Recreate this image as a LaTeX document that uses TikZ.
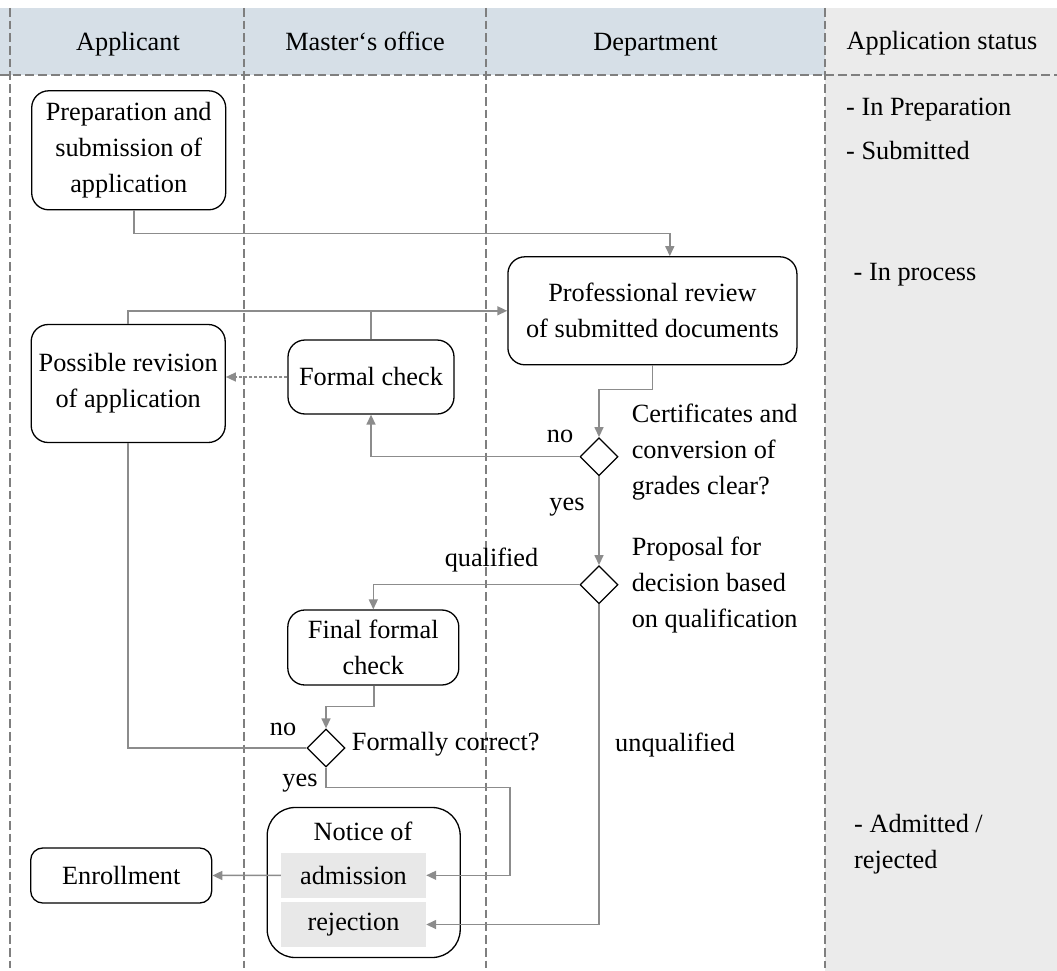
\documentclass[tikz,border=0pt]{standalone}
\usepackage{fontspec}
\setmainfont{Liberation Serif}
\usetikzlibrary{shapes.geometric,arrows.meta}
\definecolor{hdr}{HTML}{D6DFE7}
\definecolor{stat}{HTML}{EBEBEB}
\definecolor{cell}{HTML}{E8E8E8}
\definecolor{conn}{HTML}{8C8C8C}
\definecolor{lane}{HTML}{7F7F7F}
\begin{document}
\begin{tikzpicture}[x=1pt,y=1pt,
  font=\fontsize{26.3}{36}\selectfont,
  box/.style={draw=black,line width=1.3pt,rounded corners=17pt,align=center,inner sep=0pt},
  dia/.style={draw=black,line width=1.3pt,diamond,inner sep=0pt,minimum width=38pt,minimum height=38pt},
  cn/.style={draw=conn,line width=1.5pt},
  ar/.style={cn,-{Triangle[length=10pt,width=9pt]}},
  lanestyle/.style={draw=lane,line width=2.4pt,dash pattern=on 8.7pt off 4pt},
  hd/.style={inner sep=0pt,anchor=base},
  lbl/.style={inner sep=0pt},
  txt/.style={inner sep=0pt,align=left,anchor=west}]

\useasboundingbox (0,0) rectangle (1057,-971);
\fill[hdr] (0,-8) rectangle (825,-75);
\fill[stat] (825,-8) rectangle (1057,-971);
\draw[lanestyle] (0,-75) -- (1057,-75);
\foreach \x in {10,244,486,825} \draw[lanestyle] (\x,-8) -- (\x,-968);

% header
\node[hd] (hA) at (128,-51) {Applicant};
\node[hd] (hM) at (365,-51) {Master‘s office};
\node[hd] (hD) at (655.5,-51) {Department};
\node[hd] (hS) at (942,-49.5) {Application status};

% nodes
\node[box,minimum width=194pt,minimum height=119pt] (prep) at (128.7,-150.3) {Preparation and\\submission of\\application};
\node[box,minimum width=289pt,minimum height=108pt] (review) at (652.4,-310.8) {Professional review\\of submitted documents};
\node[box,minimum width=194pt,minimum height=118pt] (revision) at (128.2,-383.5) {Possible revision\\of application};
\node[box,minimum width=166pt,minimum height=74pt] (formal) at (371,-377) {Formal check};
\node[dia] (d1) at (599,-456.7) {};
\node[dia] (d2) at (599,-584.7) {};
\node[box,minimum width=171pt,minimum height=75pt] (final) at (373.3,-647.5) {Final formal\\check};
\node[dia] (d3) at (326,-748) {};
\node[box,rounded corners=28pt,minimum width=193pt,minimum height=150pt] (notice) at (363.7,-882.5) {};
\node[lbl] (noticet) at (363,-831.7) {Notice of};
\node[fill=cell,minimum width=145pt,minimum height=44.7pt,inner sep=0pt] (adm) at (353.5,-875.3) {admission};
\node[fill=cell,minimum width=145pt,minimum height=44.4pt,inner sep=0pt] (rej) at (353.5,-924.5) {rejection};
\node[box,rounded corners=12pt,minimum width=181pt,minimum height=55pt] (enroll) at (121.2,-875.5) {Enrollment};

% texts
\node[txt] (t1) at (631.6,-452.5) {Certificates and\\conversion of\\grades clear?};
\node[txt] (t2) at (631.6,-585) {Proposal for\\decision based\\on qualification};
\node[txt] (t3) at (351.7,-744) {Formally correct?};
\node[lbl] (no1) at (560,-436.7) {no};
\node[lbl] (yes1) at (567,-506.7) {yes};
\node[lbl] (qual) at (491.5,-560) {qualified};
\node[lbl] (no2) at (283,-729) {no};
\node[lbl] (yes2) at (300,-783.3) {yes};
\node[txt] (unq) at (615,-745) {unqualified};
\node[txt] (s1) at (846,-110) {- In Preparation};
\node[txt] (s2) at (846,-150.7) {- Submitted};
\node[txt] (s3) at (853.5,-275) {- In process};
\node[txt] (s4) at (854,-844) {- Admitted /\\rejected};

% connectors
\coordinate (j1) at (134,-233.3);
\coordinate (j2) at (669.8,-233.3);
\draw[ar] (prep.south -| j1) -- (j1) -- (j2) -- (review.north -| j2);
\draw[ar] (revision.north) |- (review.west);
\draw[cn] (formal.north) -- (formal.north |- review.west);
\draw[ar,dash pattern=on 3pt off 2pt] (formal.west) -- (formal.west -| revision.east);
\coordinate (j3) at (652.7,-389.3);
\draw[ar] (review.south) -- (review.south |- j3) -| (d1.north);
\draw[ar] (d1.west) -| (formal.south);
\draw[ar] (d1.south) -- (d2.north);
\draw[ar] (d2.west) -| (final.north);
\coordinate (j4) at (374,-706.7);
\draw[ar] (final.south -| j4) -- (j4) -| (d3.north);
\draw[cn] (d3.west) -| (revision.south);
\coordinate (j5) at (510,-787.3);
\draw[ar] (d3.south) |- (j5) |- (adm.east);
\draw[ar] (d2.south) |- (rej.east);
\draw[ar] (adm.west) -- (enroll.east);
\end{tikzpicture}
\end{document}
